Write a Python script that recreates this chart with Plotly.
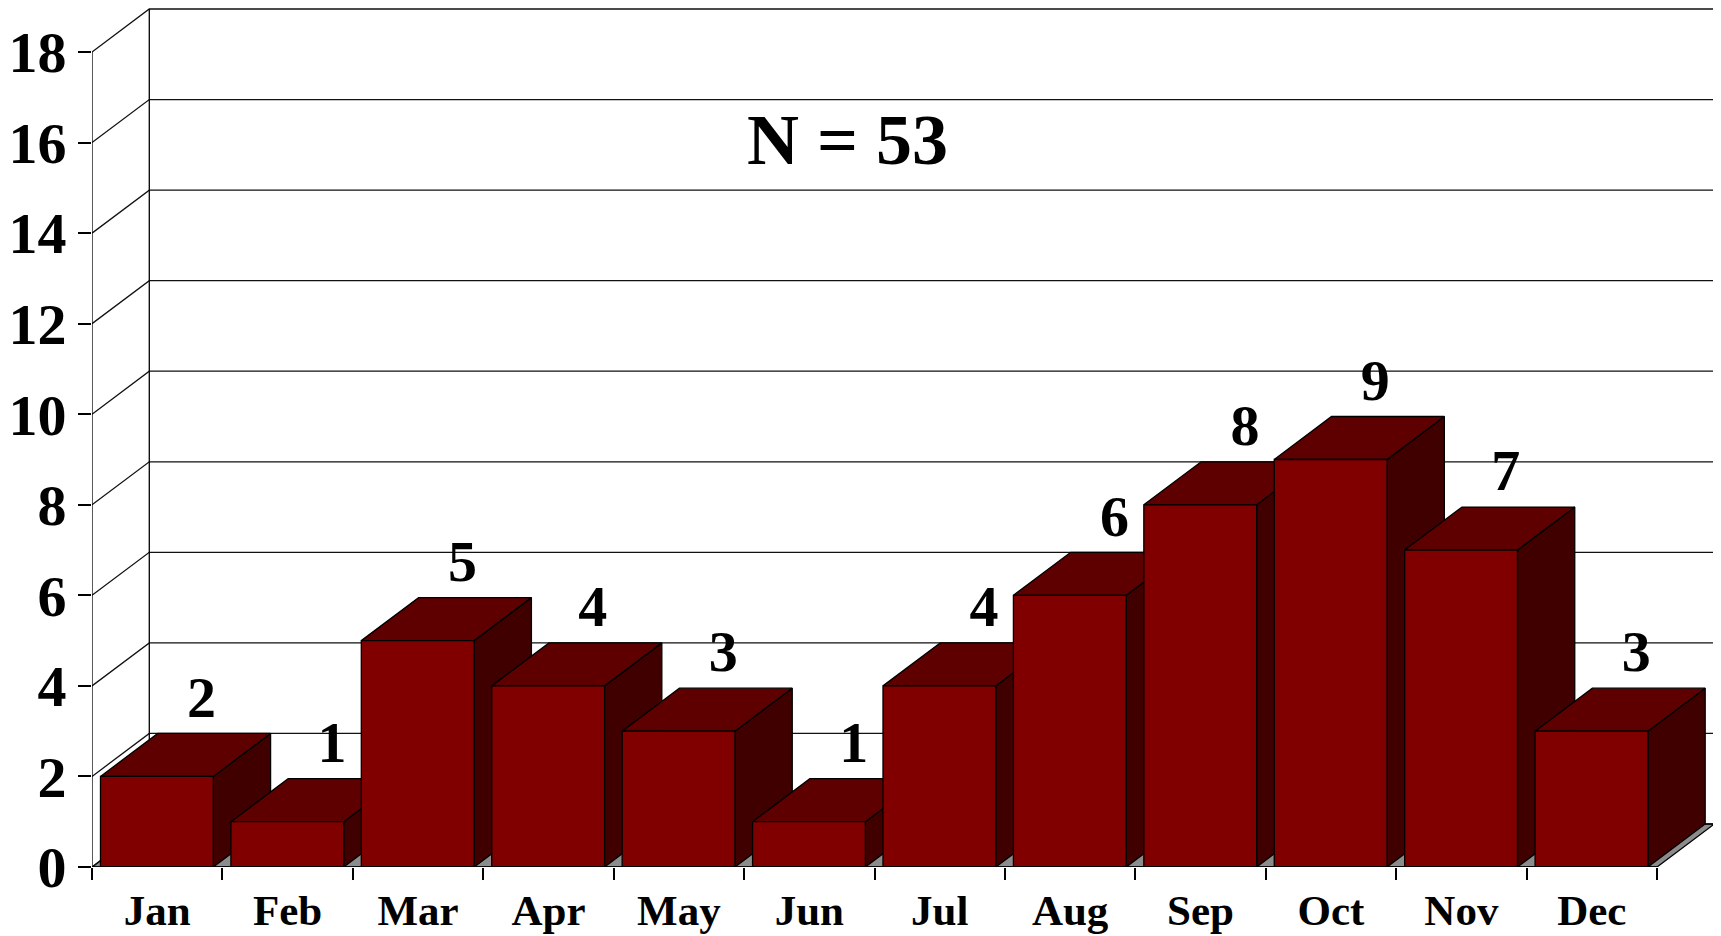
import plotly.graph_objects as go

# ---- data ----
months = ["Jan", "Feb", "Mar", "Apr", "May", "Jun", "Jul", "Aug", "Sep", "Oct", "Nov", "Dec"]
counts = [2, 1, 5, 4, 3, 1, 4, 6, 8, 9, 7, 3]
y_ticks = [0, 2, 4, 6, 8, 10, 12, 14, 16, 18]
title_text = "N = 53"

# ---- geometry / style (page pixels; the page body has an 8px margin) ----
W, H = 1721, 936
OFF = 8
X0_PAGE, Y0_PAGE = 86, 867       # where the origin sits on the page
Y18_PAGE = 52
PX_X = 130.9                      # pixels per category
PX_Y = (Y0_PAGE - Y18_PAGE) / 18  # pixels per count unit
FIG_W, FIG_H = W - OFF, H - OFF
ML, MR, MT = X0_PAGE - OFF, 4, 0
MB = H - Y0_PAGE
DX = 57.5 / PX_X                  # oblique depth (x, data units)
DY = 43.0 / PX_Y                  # oblique depth (y, data units)
BAR_L, BAR_R = 0.065, 0.93
XMAX = (FIG_W - ML - MR) / PX_X
YMAX = (FIG_H - MT - MB) / PX_Y
YTOP = max(y_ticks)
N = len(months)

FRONT, TOP, SIDE = "#800000", "#5e0000", "#400000"
FLOOR = "#8c8c8c"
LINE = "#000000"
FONT = "Liberation Serif"

fig = go.Figure()


def poly(xs, ys, fill, lw=1.3):
    fig.add_trace(go.Scatter(x=xs + [xs[0]], y=ys + [ys[0]], mode="lines", fill="toself",
                             fillcolor=fill, line=dict(color=LINE, width=lw),
                             hoverinfo="skip", showlegend=False))


def line(xs, ys, lw=1.3, color=LINE):
    fig.add_trace(go.Scatter(x=xs, y=ys, mode="lines", line=dict(color=color, width=lw),
                             hoverinfo="skip", showlegend=False))


# floor
poly([0, N, N + DX, DX], [0, 0, DY, DY], FLOOR)

# walls: gridlines on side + back wall
gx, gy = [], []
for t in y_ticks:
    gx += [0, DX, N + DX, None]
    gy += [t, t + DY, t + DY, None]
line(gx, gy, color="#111111")
line([DX, DX], [DY, YTOP + DY])
line([N + DX, N + DX], [DY, YTOP + DY])
line([0, 0], [0, YTOP])

# 3D bars, left to right
for i, v in enumerate(counts):
    x0, x1 = i + BAR_L, i + BAR_R
    poly([x1, x1 + DX, x1 + DX, x1], [0, DY, v + DY, v], SIDE)
    poly([x0, x1, x1 + DX, x0 + DX], [v, v, v + DY, v + DY], TOP)
    poly([x0, x1, x1, x0], [0, 0, v, v], FRONT)

line([0, N], [0, 0])

# value labels
fig.add_trace(go.Scatter(
    x=[i + 0.5 + 0.34 for i in range(N)],
    y=[v + DY + 0.05 for v in counts],
    mode="text", text=[str(v) for v in counts], textposition="top center",
    textfont=dict(family=FONT, size=58, color="black", weight="bold"),
    hoverinfo="skip", showlegend=False))

fig.add_annotation(x=5.79, y=16.05, xref="x", yref="y", text=title_text, showarrow=False,
                   font=dict(family=FONT, size=72, color="black", weight="bold"),
                   xanchor="center", yanchor="middle")

fig.update_layout(
    width=FIG_W, height=FIG_H, margin=dict(l=ML, r=MR, t=MT, b=MB, pad=0),
    paper_bgcolor="white", plot_bgcolor="white", showlegend=False,
    xaxis=dict(range=[0, XMAX], showgrid=False, zeroline=False, showline=False,
               tickmode="array", tickvals=[i + 0.5 for i in range(N)], ticktext=months,
               ticks="", tickfont=dict(family=FONT, size=43, color="black", weight="bold"),
               ticklabelstandoff=14,
               minor=dict(tickmode="array", tickvals=list(range(N + 1)), ticks="outside",
                          ticklen=12, tickwidth=1.5, tickcolor="black", showgrid=False),
               fixedrange=True),
    yaxis=dict(range=[0, YMAX], showgrid=False, zeroline=False, showline=False,
               tickmode="array", tickvals=y_ticks, ticks="outside", ticklen=13,
               tickwidth=1.5, tickcolor="black",
               tickfont=dict(family=FONT, size=58, color="black", weight="bold"),
               fixedrange=True),
)

fig.write_html("out.html")
